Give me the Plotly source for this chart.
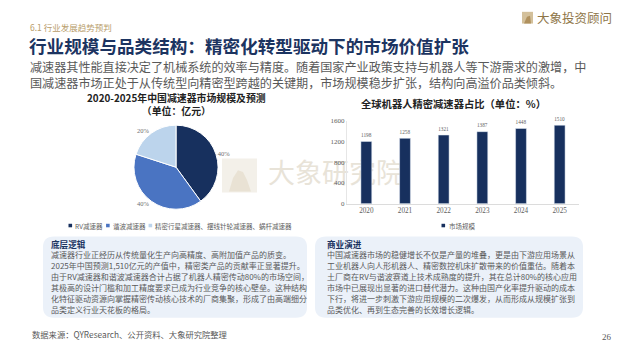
import plotly.graph_objects as go

# ---------------- data ----------------
pie_labels = ["RV减速器", "谐波减速器", "精密行星减速器、摆线针轮减速器、蜗杆减速器"]
pie_values = [40, 40, 20]
pie_colors = ["#17305e", "#4a74c2", "#bcd4ec"]

bar_years = ["2020", "2021", "2022", "2023", "2024", "2025"]
bar_values = [1198, 1258, 1321, 1387, 1448, 1510]
bar_series = "市场规模"
bar_ticks = [0, 400, 800, 1200, 1600]

section_label = "6.1 行业发展趋势预判"
title_text = "行业规模与品类结构：精密化转型驱动下的市场价值扩张"
subtitle_lines = [
    "减速器其性能直接决定了机械系统的效率与精度。随着国家产业政策支持与机器人等下游需求的激增，中",
    "国减速器市场正处于从传统型向精密型跨越的关键期，市场规模稳步扩张，结构向高溢价品类倾斜。",
]
pie_title = ["2020-2025年中国减速器市场规模及预测", "（单位：亿元）"]
bar_title = "全球机器人精密减速器占比（单位：%）"
left_head = "底层逻辑"
left_lines = [
    "减速器行业正经历从传统量化生产向高精度、高附加值产品的质变。",
    "2025年中国预测1,510亿元的产值中，精密类产品的贡献率正显著提升。",
    "由于RV减速器和谐波减速器合计占据了机器人精密传动80%的市场空间，",
    "其极高的设计门槛和加工精度要求已成为行业竞争的核心壁垒。这种结构",
    "化特征驱动资源向掌握精密传动核心技术的厂商集聚，形成了由高端细分",
    "品类定义行业天花板的格局。",
]
right_head = "商业演进"
right_lines = [
    "中国减速器市场的稳健增长不仅是产量的堆叠，更是由下游应用场景从",
    "工业机器人向人形机器人、精密数控机床扩散带来的价值重估。随着本",
    "土厂商在RV与谐波赛道上技术成熟度的提升，其在总计80%的核心应用",
    "市场中已展现出显著的进口替代潜力。这种由国产化率提升驱动的成本",
    "下行，将进一步刺激下游应用规模的二次爆发，从而形成从规模扩张到",
    "品类优化、再到生态完善的长效增长逻辑。",
]
footer_text = "数据来源：QYResearch、公开资料、大象研究院整理"
page_no = "26"
logo_text = "大象投资顾问"
watermark_text = "大象研究院"

# ---------------- layout helpers ----------------
W, H = 624, 351
CJK = "Noto Sans CJK SC"
SERIF = "Liberation Serif"


def X(px):
    return px / W


def Y(py):
    return 1 - py / H


annotations = []
shapes = []


def text(px, py, s, size, color, anchor="left", family=CJK, bold=False, align="left"):
    annotations.append(dict(
        x=X(px), y=Y(py), xref="paper", yref="paper", showarrow=False,
        text=("<b>%s</b>" % s) if bold else s, xanchor=anchor, yanchor="middle",
        align=align, font=dict(size=size, color=color, family=family), borderpad=0,
    ))


def rrect(x0, y0, x1, y1, r, fill, layer="below"):
    ax0, ax1 = X(x0), X(x1)
    ay0, ay1 = Y(y0), Y(y1)
    rx, ry = r / W, r / H
    p = (f"M {ax0+rx},{ay0} L {ax1-rx},{ay0} Q {ax1},{ay0} {ax1},{ay0-ry} "
         f"L {ax1},{ay1+ry} Q {ax1},{ay1} {ax1-rx},{ay1} L {ax0+rx},{ay1} "
         f"Q {ax0},{ay1} {ax0},{ay1+ry} L {ax0},{ay0-ry} Q {ax0},{ay0} {ax0+rx},{ay0} Z")
    shapes.append(dict(type="path", path=p, xref="paper", yref="paper",
                       fillcolor=fill, line=dict(width=0), layer=layer))


def rect(x0, y0, x1, y1, fill, layer="above"):
    shapes.append(dict(type="rect", xref="paper", yref="paper",
                       x0=X(x0), x1=X(x1), y0=Y(y1), y1=Y(y0),
                       fillcolor=fill, line=dict(width=0), layer=layer))


def poly(pts, fill, layer="above"):
    p = "M " + " L ".join(f"{X(a)},{Y(b)}" for a, b in pts) + " Z"
    shapes.append(dict(type="path", path=p, xref="paper", yref="paper",
                       fillcolor=fill, line=dict(width=0), layer=layer))


# ---------------- figure ----------------
fig = go.Figure()

# pie
pcx, pcy, pr = 176, 167, 43
fig.add_trace(go.Pie(
    labels=pie_labels, values=pie_values, sort=False, direction="clockwise",
    rotation=0, marker=dict(colors=pie_colors, line=dict(color="white", width=1)),
    textinfo="percent", textposition="outside",
    textfont=dict(size=6.5, color="#707070", family=SERIF),
    domain=dict(x=[X(pcx - pr), X(pcx + pr)], y=[Y(pcy + pr), Y(pcy - pr)]),
    showlegend=False, hoverinfo="skip",
))

# bars
fig.add_trace(go.Bar(
    x=bar_years, y=bar_values, name=bar_series, width=0.28,
    marker=dict(color="#17305e"), text=[str(v) for v in bar_values],
    textposition="outside", cliponaxis=False,
    textfont=dict(size=7, color="#606060", family=SERIF),
    showlegend=False, hoverinfo="skip",
))

fig.update_layout(
    width=W, height=H, margin=dict(l=0, r=0, t=0, b=0, pad=0),
    paper_bgcolor="white", plot_bgcolor="rgba(0,0,0,0)",
    xaxis=dict(domain=[X(347), X(579)], range=[-0.5, 5.5], showgrid=False,
               zeroline=False, showline=True, linecolor="#dcdcdc", linewidth=1,
               ticks="", tickfont=dict(size=7.2, color="#606060", family=SERIF)),
    yaxis=dict(domain=[Y(204.3), Y(119.3)], range=[0, 1600], tickvals=bar_ticks,
               showgrid=False, zeroline=False, showline=True, linecolor="#e6e6e6",
               linewidth=1, ticks="", tickfont=dict(size=7, color="#606060", family=SERIF)),
    bargap=0.7,
)

# watermark (below traces)
rect(222, 158, 257, 193, "#f3f0e9", layer="below")
poly([(229, 192), (233, 178), (238, 170), (243, 172), (247, 180), (251, 192)], "#e9e2d4", layer="below")
shapes.append(dict(type="rect", xref="paper", yref="paper", x0=X(262), x1=X(400),
                   y0=Y(192), y1=Y(158), fillcolor="rgba(0,0,0,0)", line=dict(width=0),
                   layer="below",
                   label=dict(text=watermark_text, textposition="middle left",
                              font=dict(size=27, color="#e8e3d8", family=CJK))))

# header
text(29, 23.8, section_label, 8.5, "#b89d6b")
text(28, 42, title_text, 17.6, "#1c3461", bold=True)
text(29, 72, "<br>".join(subtitle_lines), 12.1, "#595959")

# logo
rect(522, 8, 533, 20, "#d3c09b")
poly([(524, 20), (527, 13), (530, 12), (531, 20)], "#b0915e")
text(536, 14, logo_text, 12.5, "#8e7547")

# chart titles
text(176, 102.6, "<br>".join(pie_title), 9.9, "#222222", anchor="center", bold=True,
     align="center")
text(453, 102, bar_title, 10.3, "#222222", anchor="center", bold=True)

# pie legend (manual, compact)
lx = 68.5
fs = 6.5


def est_w(s, size):
    w = 0
    for ch in s:
        w += size * (0.62 if ord(ch) < 128 else 1.0)
    return w


for lab, col in zip(pie_labels, pie_colors):
    rect(lx, 224.9, lx + 3.6, 228.5, col)
    text(lx + 5.5, 226.7, lab, fs, "#606060")
    lx += 5.5 + est_w(lab, fs) + 4.5

# bar legend
rect(441.5, 224.9, 445.1, 228.5, "#17305e")
text(447.5, 226.7, bar_series, 6.5, "#606060")

# bottom boxes
rrect(43, 238, 307, 321, 11, "#ebf1f9")
rrect(315, 238, 583, 321, 11, "#ebf1f9")
text(50, 245.3, left_head, 8.6, "#1c3461", bold=True)
text(325.5, 245.3, right_head, 8.6, "#1c3461", bold=True)
for i, s in enumerate(left_lines):
    text(50, 256.6 + 11.15 * i, s, 8, "#595959")
for i, s in enumerate(right_lines):
    text(325.5, 256.6 + 11.15 * i, s, 8, "#595959")

# footer
text(31, 337.3, footer_text, 8.3, "#595959")
text(607, 341, page_no, 9, "#595959", anchor="center", family=SERIF)

fig.update_layout(annotations=annotations, shapes=shapes)
fig.write_html("out.html")
